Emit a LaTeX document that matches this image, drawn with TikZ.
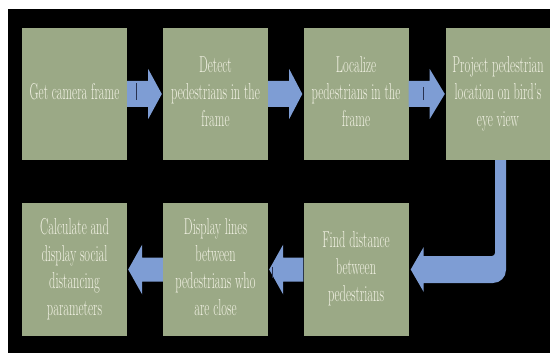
\documentclass[tikz,border=0pt]{standalone}
\usetikzlibrary{calc}
\definecolor{boxg}{RGB}{155,169,134}
\definecolor{arrb}{RGB}{126,157,212}
\definecolor{txtc}{RGB}{242,242,228}
\definecolor{markc}{RGB}{40,50,80}
\newcommand{\blk}[1]{\scalebox{0.54}[1]{\begin{tabular}{@{}c@{}}#1\end{tabular}}}
\begin{document}
\begin{tikzpicture}[x=1pt,y=-1pt,
  box/.style={fill=boxg, minimum width=105pt, minimum height=132pt, inner sep=0pt,
              text=txtc, font=\fontsize{23}{27}\selectfont},
  lowbox/.style={box, minimum height=133pt},
  arr/.style={fill=arrb},
  mark line/.style={draw=markc, line width=1pt}]
\useasboundingbox (0,0) rectangle (550,353);
\fill[white] (0,0) rectangle (550,353);
\fill[black] (8,9) rectangle (550,353);
% top row
\node[box] (a) at (74.5,94) {\blk{Get camera frame}};
\node[box] (b) at (215.5,94) {\blk{Detect\\pedestrians in the\\frame}};
\node[box] (c) at (356,94) {\blk{Localize\\pedestrians in the\\frame}};
\node[box, minimum width=104pt] (d) at (498,94) {\blk{Project pedestrian\\location on bird's\\eye view}};
% bottom row
\node[lowbox] (e) at (356,269.5) {\blk{Find distance\\between\\pedestrians}};
\node[lowbox] (f) at (215.5,269.5) {\blk{Display lines\\between\\pedestrians who\\are close}};
\node[lowbox] (g) at (74.5,269.5) {\blk{Calculate and\\display social\\distancing\\parameters}};
% right-pointing block arrows
\foreach \s/\t in {a/b,b/c,c/d}{
  \fill[arr] ($(\s.east)+(0,-13)$) -- ($(\s.east)+(21,-13)$) -- ($(\s.east)+(21,-25)$)
     -- ($(\t.west)+(-1,0)$) -- ($(\s.east)+(21,25)$) -- ($(\s.east)+(21,13)$)
     -- ($(\s.east)+(0,13)$) -- cycle;
}
% left-pointing block arrows
\foreach \s/\t in {e/f,f/g}{
  \fill[arr] ($(\s.west)+(0,-12)$) -- ($(\t.east)+(15,-12)$) -- ($(\t.east)+(15,-25)$)
     -- ($(\t.east)+(1,0)$) -- ($(\t.east)+(15,25)$) -- ($(\t.east)+(15,12)$)
     -- ($(\s.west)+(0,12)$) -- cycle;
}
% U-turn arrow from d down and left into e
\coordinate (u1) at ($(d.south)+(-3,0)$);
\coordinate (u2) at ($(d.south)+(8,0)$);
\fill[arr] (u1) -- (u2) [rounded corners=13pt] -- (u2 |- 0,283) [sharp corners] -- ($(e.east)+(15,13.5)$)
   -- ($(e.east)+(15,22.5)$) -- ($(e.east)+(2,0)$) -- ($(e.east)+(15,-22.5)$)
   -- ($(e.east)+(15,-13.5)$) [rounded corners=3pt] -- (u1 |- 0,256) [sharp corners] -- cycle;
% small dark marks seen on some shafts
\draw[mark line] ($(a.east)+(9,-11)$) -- ($(a.east)+(9,6)$);
\draw[mark line] ($(c.east)+(15,-7)$) -- ($(c.east)+(15,6)$);
\draw[mark line] ($(f.east)+(4,-3)$) -- ($(f.east)+(4,8)$);
\end{tikzpicture}
\end{document}
